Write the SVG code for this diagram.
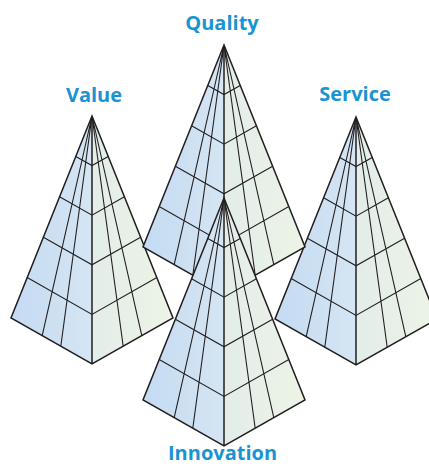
<svg xmlns="http://www.w3.org/2000/svg" xmlns:xlink="http://www.w3.org/1999/xlink" width="429" height="466" viewBox="0 0 429 466">
<style>
.lbl{font-family:"Open Sans","Liberation Sans",sans-serif;font-weight:bold;font-size:20px;fill:#1a93d2;text-anchor:middle}
.edge{fill:none;stroke:#231f20;stroke-width:1.5;stroke-linejoin:miter}
.grid{fill:none;stroke:#231f20;stroke-width:1.1}
</style>
<defs>
<linearGradient id="gl" x1="0" y1="0" x2="1" y2="0">
<stop offset="0" stop-color="#c4dbf2"/>
<stop offset="1" stop-color="#d5e5f3"/>
</linearGradient>
<linearGradient id="gr" x1="0" y1="0" x2="1" y2="0">
<stop offset="0" stop-color="#e3ede9"/>
<stop offset="1" stop-color="#edf4e6"/>
</linearGradient>
<g id="pyr">
<polygon points="0,0 -81,202 0,248" fill="url(#gl)"/>
<polygon points="0,0 0,248 81,202" fill="url(#gr)"/>
<path class="grid" d="M0,0L-49.8,219.7M0,0L-31.2,230.3M0,0L31.2,230.3M0,0L49.8,219.7M-16.2,40.4L0,49.6L16.2,40.4M-32.4,80.8L0,99.2L32.4,80.8M-48.6,121.2L0,148.8L48.6,121.2M-64.8,161.6L0,198.4L64.8,161.6"/>
<path class="edge" d="M0,0L-81,202L0,248L81,202ZM0,0L0,248"/>
</g>
</defs>
<g id="connectors"/>
<g id="value">
<use xlink:href="#pyr" transform="translate(92,116)"/>
<text class="lbl" x="94" y="101.5">Value</text>
</g>
<g id="service">
<use xlink:href="#pyr" transform="translate(356,117)"/>
<text class="lbl" x="355" y="100.5">Service</text>
</g>
<g id="quality">
<use xlink:href="#pyr" transform="translate(224,45)"/>
<text class="lbl" x="222" y="29.5">Quality</text>
</g>
<g id="innovation">
<use xlink:href="#pyr" transform="translate(224,198)"/>
<text class="lbl" x="222.5" y="460">Innovation</text>
</g>
</svg>
